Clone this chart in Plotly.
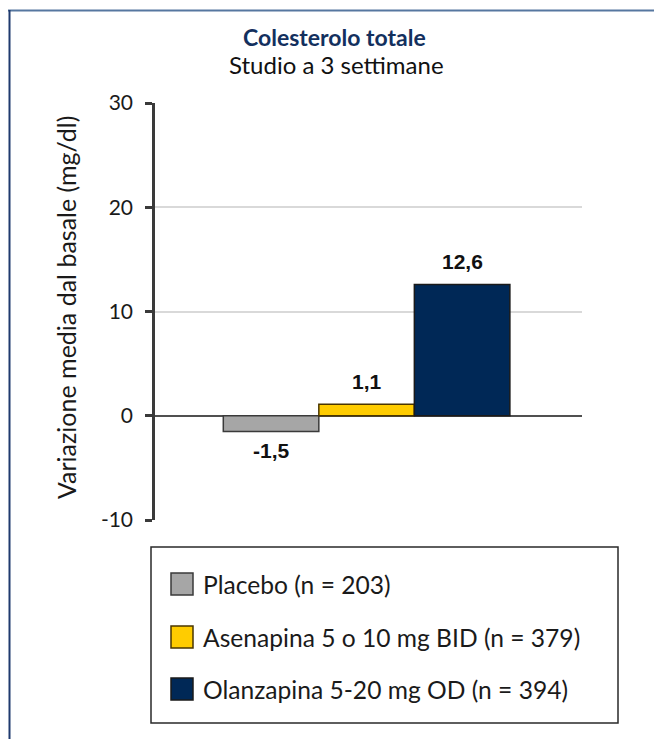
import plotly.graph_objects as go

# Data
series_names = ["Placebo", "Asenapina 5 o 10 mg BID", "Olanzapina 5-20 mg OD"]
series_n = [203, 379, 394]
series_values = [-1.5, 1.1, 12.6]
series_labels = ["-1,5", "1,1", "12,6"]
fill_colors = ["#a6a6a6", "#ffcc00", "#002856"]
edge_colors = ["#3a3a3a", "#4a3600", "#1a1a1a"]
y_ticks = [-10, 0, 10, 20, 30]

W, H = 654, 739


def px_x(v):
    return v / W


def px_y(v):
    return 1 - v / H


# bar positions: three adjacent bars on a numeric axis, one unit wide each
bar_pos = list(range(len(series_values)))

fig = go.Figure()
for pos, name, val, fc, ec in zip(bar_pos, series_names, series_values,
                                  fill_colors, edge_colors):
    fig.add_trace(go.Bar(
        x=[pos], y=[val], name=name, width=1.0,
        marker=dict(color=fc, line=dict(color=ec, width=1.5)),
        showlegend=False, hoverinfo="name+y",
    ))

annotations = []
# value labels above positive bars, below negative ones
for pos, val, lab in zip(bar_pos, series_values, series_labels):
    annotations.append(dict(
        text=f"<b>{lab}</b>", x=pos, y=val, xref="x", yref="y",
        yanchor="bottom" if val >= 0 else "top",
        yshift=9 if val >= 0 else -6,
        font=dict(family="Liberation Sans", size=21, color="#111111"),
    ))

fig.update_layout(
    width=W, height=H,
    margin=dict(l=0, r=0, t=0, b=0, autoexpand=False),
    paper_bgcolor="white", plot_bgcolor="white",
    barmode="overlay",
    xaxis=dict(domain=[px_x(155), px_x(582)], range=[-1.215, 3.255],
               showticklabels=False, showgrid=False, zeroline=False,
               showline=False, ticks="", automargin=False, fixedrange=True),
    yaxis=dict(domain=[px_y(520), px_y(103)], range=[-10, 30],
               tickvals=y_ticks, ticktext=[str(t) for t in y_ticks],
               showgrid=True, gridcolor="#d9d9d9", gridwidth=2,
               zeroline=True, zerolinecolor="#505050", zerolinewidth=1.5,
               showline=True, linecolor="#3a3a3a", linewidth=2.5,
               ticks="outside", ticklen=7, tickwidth=2.5, tickcolor="#3a3a3a",
               ticklabelstandoff=8, automargin=False, fixedrange=True,
               tickfont=dict(family="Lato", size=21, color="#1a1a1a")),
    font=dict(family="Lato"),
)

annotations += [
    dict(text="<b>Colesterolo totale</b>", x=px_x(334), y=px_y(37),
         font=dict(family="Lato", size=23, color="#13305e")),
    dict(text="Studio a 3 settimane", x=px_x(336), y=px_y(64),
         font=dict(family="Lato", size=24, color="#111111")),
    dict(text="Variazione media dal basale (mg/dl)", x=px_x(66), y=px_y(308),
         textangle=-90, font=dict(family="Lato", size=25, color="#1a1a1a")),
]

shapes = [
    # outer frame lines
    dict(type="line", xref="paper", yref="paper", x0=px_x(8), x1=1,
         y0=px_y(10.5), y1=px_y(10.5), line=dict(color="#5677a0", width=2)),
    dict(type="line", xref="paper", yref="paper", x0=px_x(9.5), x1=px_x(9.5),
         y0=px_y(10), y1=0, line=dict(color="#1f3a6e", width=2)),
    # legend box
    dict(type="rect", xref="paper", yref="paper", x0=px_x(151), x1=px_x(618),
         y0=px_y(723), y1=px_y(547), line=dict(color="#2a2a2a", width=1.5),
         fillcolor="rgba(0,0,0,0)"),
]

row_y = [584, 637, 689]
for name, n, fc, ec, ry in zip(series_names, series_n, fill_colors,
                               edge_colors, row_y):
    shapes.append(dict(type="rect", xref="paper", yref="paper",
                       x0=px_x(171), x1=px_x(193),
                       y0=px_y(ry + 11), y1=px_y(ry - 11),
                       fillcolor=fc, line=dict(color=ec, width=1.5)))
    annotations.append(dict(text=f"{name} (n = {n})", x=px_x(201), y=px_y(ry),
                            xanchor="left",
                            font=dict(family="Lato", size=24.6, color="#1a1a1a")))

for a in annotations:
    a.setdefault("xref", "paper")
    a.setdefault("yref", "paper")
    a.setdefault("showarrow", False)
    a.setdefault("xanchor", "center")
    a.setdefault("yanchor", "middle")

fig.update_layout(annotations=annotations, shapes=shapes)
fig.write_html("out.html")
